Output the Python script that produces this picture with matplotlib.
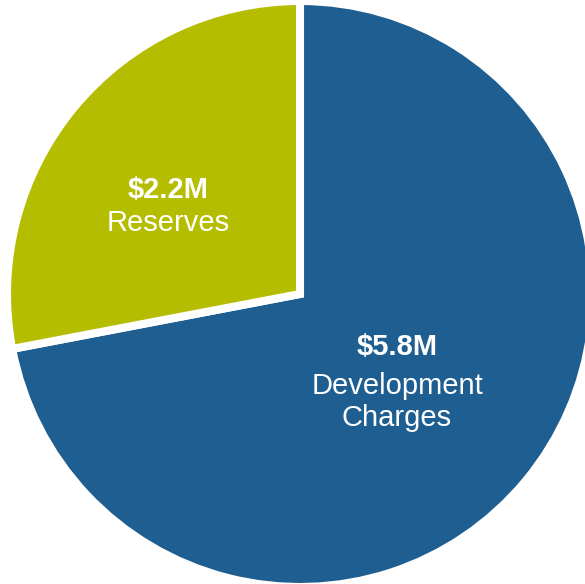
import matplotlib.pyplot as plt

# data
amount_labels = ['$5.8M', '$2.2M']
names = [['Development', 'Charges'], ['Reserves']]
slice_sizes = [5.76, 2.24]
colors = ['#1F5E90', '#B5BD00']

fig = plt.figure(figsize=(5.85, 5.84), dpi=100)
ax = fig.add_axes([0, 0, 1, 1])

# pie starts at 12 o'clock, going clockwise
wedges, _ = ax.pie(slice_sizes, colors=colors, startangle=90, counterclock=False,
                   radius=1.0,
                   wedgeprops=dict(edgecolor='white', linewidth=5.8))

# scale: 293 px per unit, pie centre at pixel (300, 294)
s = 293.0
cx, cy = 300, 294
ax.set_xlim(-cx / s, (585 - cx) / s)
ax.set_ylim(-(584 - cy) / s, cy / s)
ax.set_aspect('auto')
ax.axis('off')

# label layout: x centre and baselines (pixels from top)
label_x = [397, 168]
baselines = [[355, 394, 426], [198, 231]]
font = ['Liberation Sans', 'DejaVu Sans']
for lx, bl, amt, lines in zip(label_x, baselines, amount_labels, names):
    x = (lx - cx) / s
    ax.text(x, (cy - bl[0]) / s, amt, ha='center', va='baseline', color='white',
            fontsize=21, fontweight='bold', family=font)
    for b, line in zip(bl[1:], lines):
        ax.text(x, (cy - b) / s, line, ha='center', va='baseline', color='white',
                fontsize=21, family=font)

fig.savefig('out.png', dpi=100)
